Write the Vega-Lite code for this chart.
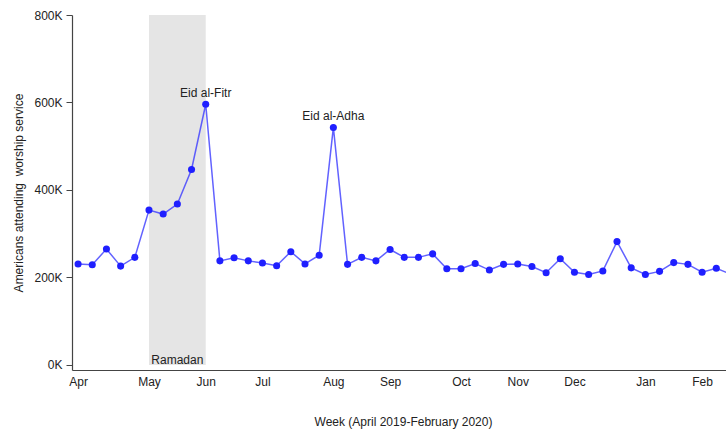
{
  "$schema": "https://vega.github.io/schema/vega-lite/v6.json",
  "autosize": {"type": "none"},
  "padding": {"left": 72, "top": 15, "right": 0, "bottom": 64},
  "width": 654,
  "height": 355,
  "background": "white",
  "config": {
    "view": {"stroke": null},
    "font": "Liberation Sans",
    "axis": {"grid": false, "labelFont": "Liberation Sans", "titleFont": "Liberation Sans", "labelFontSize": 12, "titleFontSize": 12, "titleFontWeight": "normal", "labelColor": "#222", "titleColor": "#222", "domainColor": "#444", "domainWidth": 1.2, "tickColor": "#444"}
  },
  "data": {"values": [
    {"week": "2019-04-01", "attendance": 231000},
    {"week": "2019-04-08", "attendance": 229000},
    {"week": "2019-04-15", "attendance": 265000},
    {"week": "2019-04-22", "attendance": 226000},
    {"week": "2019-04-29", "attendance": 246000},
    {"week": "2019-05-06", "attendance": 354000},
    {"week": "2019-05-13", "attendance": 345000},
    {"week": "2019-05-20", "attendance": 368000},
    {"week": "2019-05-27", "attendance": 447000},
    {"week": "2019-06-03", "attendance": 596000},
    {"week": "2019-06-10", "attendance": 238000},
    {"week": "2019-06-17", "attendance": 245000},
    {"week": "2019-06-24", "attendance": 238000},
    {"week": "2019-07-01", "attendance": 233000},
    {"week": "2019-07-08", "attendance": 227000},
    {"week": "2019-07-15", "attendance": 259000},
    {"week": "2019-07-22", "attendance": 231000},
    {"week": "2019-07-29", "attendance": 251000},
    {"week": "2019-08-05", "attendance": 543000},
    {"week": "2019-08-12", "attendance": 230000},
    {"week": "2019-08-19", "attendance": 246000},
    {"week": "2019-08-26", "attendance": 238000},
    {"week": "2019-09-02", "attendance": 264000},
    {"week": "2019-09-09", "attendance": 246000},
    {"week": "2019-09-16", "attendance": 246000},
    {"week": "2019-09-23", "attendance": 254000},
    {"week": "2019-09-30", "attendance": 220000},
    {"week": "2019-10-07", "attendance": 220000},
    {"week": "2019-10-14", "attendance": 232000},
    {"week": "2019-10-21", "attendance": 217000},
    {"week": "2019-10-28", "attendance": 230000},
    {"week": "2019-11-04", "attendance": 231000},
    {"week": "2019-11-11", "attendance": 225000},
    {"week": "2019-11-18", "attendance": 211000},
    {"week": "2019-11-25", "attendance": 243000},
    {"week": "2019-12-02", "attendance": 212000},
    {"week": "2019-12-09", "attendance": 207000},
    {"week": "2019-12-16", "attendance": 215000},
    {"week": "2019-12-23", "attendance": 282000},
    {"week": "2019-12-30", "attendance": 222000},
    {"week": "2020-01-06", "attendance": 207000},
    {"week": "2020-01-13", "attendance": 214000},
    {"week": "2020-01-20", "attendance": 234000},
    {"week": "2020-01-27", "attendance": 230000},
    {"week": "2020-02-03", "attendance": 212000},
    {"week": "2020-02-10", "attendance": 221000},
    {"week": "2020-02-17", "attendance": 208000}
  ]},
  "encoding": {
    "x": {
      "field": "week", "type": "temporal",
      "scale": {"type": "utc", "domain": [{"year": 2019, "month": "mar", "date": 29, "utc": true}, {"year": 2020, "month": "feb", "date": 14, "hours": 19, "utc": true}]},
      "axis": {
        "title": "Week (April 2019-February 2020)",
        "format": "%b",
        "values": [
          {"year": 2019, "month": "apr", "date": 1, "utc": true},
          {"year": 2019, "month": "may", "date": 6, "utc": true},
          {"year": 2019, "month": "jun", "date": 3, "utc": true},
          {"year": 2019, "month": "jul", "date": 1, "utc": true},
          {"year": 2019, "month": "aug", "date": 5, "utc": true},
          {"year": 2019, "month": "sep", "date": 2, "utc": true},
          {"year": 2019, "month": "oct", "date": 7, "utc": true},
          {"year": 2019, "month": "nov", "date": 4, "utc": true},
          {"year": 2019, "month": "dec", "date": 2, "utc": true},
          {"year": 2020, "month": "jan", "date": 6, "utc": true},
          {"year": 2020, "month": "feb", "date": 3, "utc": true}
        ],
        "ticks": false, "tickSize": 0, "labelPadding": 6, "labelFlush": false, "labelOverlap": false,
        "titleX": 331, "titleAlign": "center", "titleAnchor": null,
        "titleY": 46, "titleBaseline": "top"
      }
    }
  },
  "layer": [
    {
      "data": {"values": [{"start": "2019-05-06", "end": "2019-06-03", "mid": "2019-05-20", "label": "Ramadan"}]},
      "mark": {"type": "rect", "color": "#e5e5e5"},
      "encoding": {
        "x": {"field": "start", "type": "temporal"},
        "x2": {"field": "end"},
        "y": {"datum": 0, "type": "quantitative"},
        "y2": {"datum": 800000}
      }
    },
    {
      "data": {"values": [{"start": "2019-05-06", "end": "2019-06-03", "mid": "2019-05-20", "label": "Ramadan"}]},
      "mark": {"type": "text", "fontSize": 12, "color": "#222", "baseline": "alphabetic", "dy": -1},
      "encoding": {
        "x": {"field": "mid", "type": "temporal"},
        "y": {"datum": 0, "type": "quantitative"},
        "text": {"field": "label"}
      }
    },
    {
      "mark": {"type": "line", "color": "#3b3bff", "strokeWidth": 1.5, "opacity": 0.8, "clip": true},
      "encoding": {
        "y": {
          "field": "attendance", "type": "quantitative",
          "scale": {"domain": [-11450, 800000], "nice": false, "zero": false},
          "axis": {
            "title": "Americans attending\u00a0 worship service",
            "values": [0, 200000, 400000, 600000, 800000],
            "labelExpr": "datum.value / 1000 + 'K'",
            "tickSize": 6, "labelPadding": 4, "titlePadding": 8
          }
        }
      }
    },
    {
      "mark": {"type": "point", "filled": true, "color": "#1f1fff", "size": 50, "opacity": 1, "clip": true},
      "encoding": {
        "y": {"field": "attendance", "type": "quantitative"}
      }
    },
    {
      "data": {"values": [
        {"week": "2019-06-03", "attendance": 596000, "label": "Eid al-Fitr"},
        {"week": "2019-08-05", "attendance": 543000, "label": "Eid al-Adha"}
      ]},
      "mark": {"type": "text", "fontSize": 12, "color": "#222", "baseline": "alphabetic", "dy": -7},
      "encoding": {
        "y": {"field": "attendance", "type": "quantitative"},
        "text": {"field": "label"}
      }
    }
  ]
}
